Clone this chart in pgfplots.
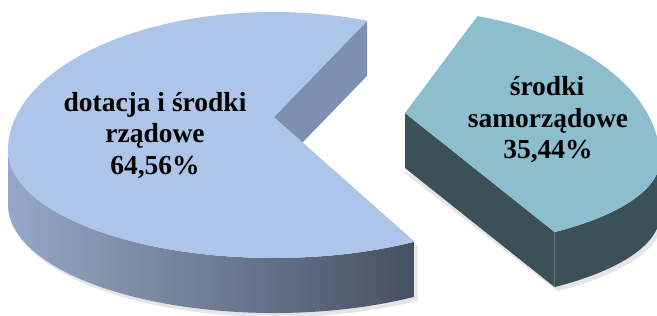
\documentclass[border=0pt]{standalone}
\usepackage{pgfplots}
\pgfplotsset{compat=1.18}
\usetikzlibrary{calc}
\usepackage{fontspec}
\setmainfont{Liberation Serif}
\definecolor{bigtop}{RGB}{173,197,232}
\definecolor{bigcut}{RGB}{125,144,176}
\definecolor{bigsideL}{RGB}{150,168,200}
\definecolor{bigsideR}{RGB}{70,80,98}
\definecolor{smalltop}{RGB}{140,190,207}
\definecolor{smallside}{RGB}{60,80,88}
% data (percent)
\def\valA{64.56}
\def\valB{35.44}
\begin{document}
\begin{tikzpicture}
\pgfmathsetmacro{\bStart}{69.5}
\pgfmathsetmacro{\bEnd}{\bStart+3.6*\valA}
\pgfmathsetmacro{\sEnd}{73.5}
\pgfmathsetmacro{\sStart}{\sEnd-3.6*\valB}
\useasboundingbox (0,0) rectangle (657pt,316pt);
\begin{axis}[x=1pt,y=1pt,xmin=0,xmax=657,ymin=0,ymax=316,hide axis,clip=false,anchor=south west,at={(0,0)}]
% shadows
\fill[black,opacity=0.10] ($(axis cs:277,163)+(180:266pt and 108pt)$) arc[start angle=180,end angle=\bEnd,x radius=266pt,y radius=108pt] -- ++(0pt,-56pt) arc[start angle=\bEnd,end angle=180,x radius=266pt,y radius=108pt] -- cycle;
\fill[black,opacity=0.10] ($(axis cs:408,153)+(\sStart:255pt and 89pt)$) arc[start angle=\sStart,end angle=0,x radius=255pt,y radius=89pt] -- ++(0pt,-56pt) arc[start angle=0,end angle=\sStart,x radius=255pt,y radius=89pt] -- cycle;
\fill[black,opacity=0.10] (axis cs:402,145) -- ($(axis cs:408,153)+(\sStart:255pt and 89pt)$) -- ++(0pt,-56pt) -- cycle;
% big slice: cut face
\fill[bigcut] (axis cs:274,199) -- ($(axis cs:274,166)+(\bStart:266pt and 138pt)$) -- ++(0pt,-55pt) -- (axis cs:274,144) -- cycle;
% big slice: front side
\shade[left color=bigsideL,right color=bigsideR] ($(axis cs:274,166)+(180:266pt and 108pt)$) arc[start angle=180,end angle=\bEnd,x radius=266pt,y radius=108pt] -- ++(0pt,-55pt) arc[start angle=\bEnd,end angle=180,x radius=266pt,y radius=108pt] -- cycle;
% big slice: top
\fill[bigtop] (axis cs:274,199) -- ($(axis cs:274,166)+(\bStart:266pt and 138pt)$) arc[start angle=\bStart,end angle=180,x radius=266pt,y radius=138pt] arc[start angle=180,end angle=\bEnd,x radius=266pt,y radius=108pt] -- cycle;
% small slice: cut face
\fill[smallside] (axis cs:405,203) -- ($(axis cs:405,156)+(\sStart:255pt and 89pt)$) -- ++(0pt,-55pt) -- (axis cs:405,148) -- cycle;
% small slice: outer side
\fill[smallside] ($(axis cs:405,156)+(\sStart:255pt and 89pt)$) arc[start angle=\sStart,end angle=0,x radius=255pt,y radius=89pt] -- ++(0pt,-55pt) arc[start angle=0,end angle=\sStart,x radius=255pt,y radius=89pt] -- cycle;
% small slice: top
\fill[smalltop] (axis cs:405,203) -- ($(axis cs:405,156)+(\sStart:255pt and 89pt)$) arc[start angle=\sStart,end angle=0,x radius=255pt,y radius=89pt] arc[start angle=0,end angle=\sEnd,x radius=255pt,y radius=150pt] -- cycle;
% labels
\begin{scope}[every node/.style={anchor=base,font=\bfseries\fontsize{27.5}{31}\selectfont,inner sep=0pt}]
\node at (axis cs:155,204) {dotacja i środki};
\node at (axis cs:155,173) {rządowe};
\node at (axis cs:155,141) {64,56\%};
\node at (axis cs:547,220) {środki};
\node at (axis cs:548,188) {samorządowe};
\node at (axis cs:548,157) {35,44\%};
\end{scope}
\end{axis}
\end{tikzpicture}
\end{document}
